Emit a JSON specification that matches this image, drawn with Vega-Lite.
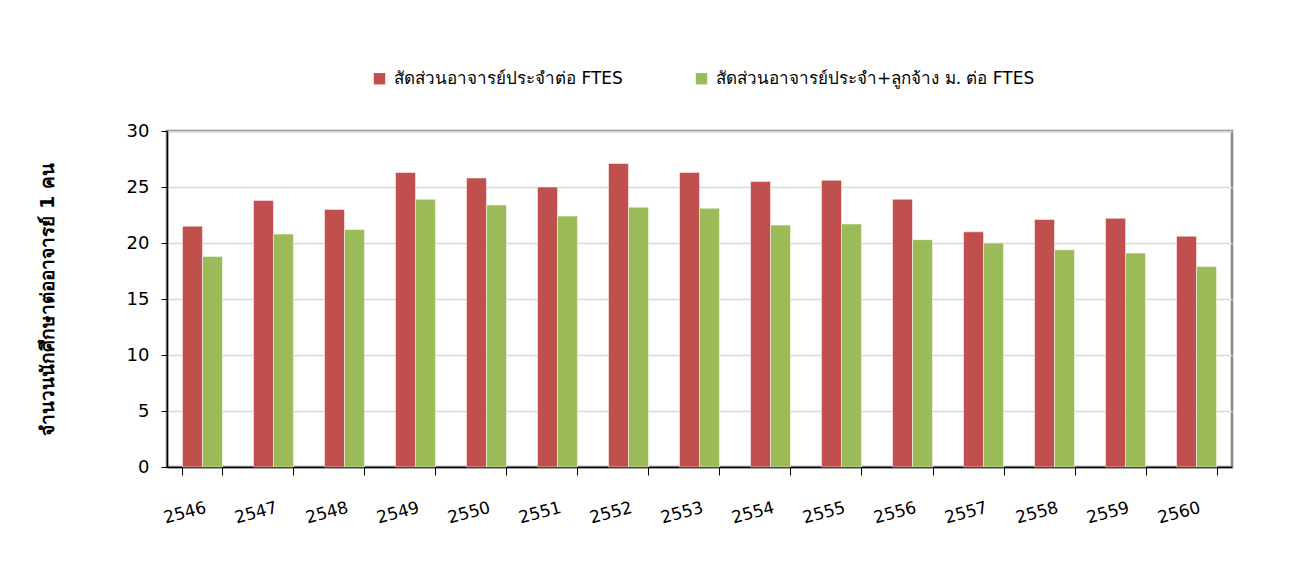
{
  "$schema": "https://vega.github.io/schema/vega-lite/v6.json",
  "width": 1065,
  "height": 336,
  "autosize": {"type": "none"},
  "padding": {"left": 167, "top": 131, "right": 66, "bottom": 104},
  "background": "white",
  "data": {
    "values": [
      {"year": "2546", "series": "สัดส่วนอาจารย์ประจำต่อ FTES", "value": 21.5},
      {"year": "2546", "series": "สัดส่วนอาจารย์ประจำ+ลูกจ้าง ม. ต่อ FTES", "value": 18.8},
      {"year": "2547", "series": "สัดส่วนอาจารย์ประจำต่อ FTES", "value": 23.8},
      {"year": "2547", "series": "สัดส่วนอาจารย์ประจำ+ลูกจ้าง ม. ต่อ FTES", "value": 20.8},
      {"year": "2548", "series": "สัดส่วนอาจารย์ประจำต่อ FTES", "value": 23.0},
      {"year": "2548", "series": "สัดส่วนอาจารย์ประจำ+ลูกจ้าง ม. ต่อ FTES", "value": 21.2},
      {"year": "2549", "series": "สัดส่วนอาจารย์ประจำต่อ FTES", "value": 26.3},
      {"year": "2549", "series": "สัดส่วนอาจารย์ประจำ+ลูกจ้าง ม. ต่อ FTES", "value": 23.9},
      {"year": "2550", "series": "สัดส่วนอาจารย์ประจำต่อ FTES", "value": 25.8},
      {"year": "2550", "series": "สัดส่วนอาจารย์ประจำ+ลูกจ้าง ม. ต่อ FTES", "value": 23.4},
      {"year": "2551", "series": "สัดส่วนอาจารย์ประจำต่อ FTES", "value": 25.0},
      {"year": "2551", "series": "สัดส่วนอาจารย์ประจำ+ลูกจ้าง ม. ต่อ FTES", "value": 22.4},
      {"year": "2552", "series": "สัดส่วนอาจารย์ประจำต่อ FTES", "value": 27.1},
      {"year": "2552", "series": "สัดส่วนอาจารย์ประจำ+ลูกจ้าง ม. ต่อ FTES", "value": 23.2},
      {"year": "2553", "series": "สัดส่วนอาจารย์ประจำต่อ FTES", "value": 26.3},
      {"year": "2553", "series": "สัดส่วนอาจารย์ประจำ+ลูกจ้าง ม. ต่อ FTES", "value": 23.1},
      {"year": "2554", "series": "สัดส่วนอาจารย์ประจำต่อ FTES", "value": 25.5},
      {"year": "2554", "series": "สัดส่วนอาจารย์ประจำ+ลูกจ้าง ม. ต่อ FTES", "value": 21.6},
      {"year": "2555", "series": "สัดส่วนอาจารย์ประจำต่อ FTES", "value": 25.6},
      {"year": "2555", "series": "สัดส่วนอาจารย์ประจำ+ลูกจ้าง ม. ต่อ FTES", "value": 21.7},
      {"year": "2556", "series": "สัดส่วนอาจารย์ประจำต่อ FTES", "value": 23.9},
      {"year": "2556", "series": "สัดส่วนอาจารย์ประจำ+ลูกจ้าง ม. ต่อ FTES", "value": 20.3},
      {"year": "2557", "series": "สัดส่วนอาจารย์ประจำต่อ FTES", "value": 21.0},
      {"year": "2557", "series": "สัดส่วนอาจารย์ประจำ+ลูกจ้าง ม. ต่อ FTES", "value": 20.0},
      {"year": "2558", "series": "สัดส่วนอาจารย์ประจำต่อ FTES", "value": 22.1},
      {"year": "2558", "series": "สัดส่วนอาจารย์ประจำ+ลูกจ้าง ม. ต่อ FTES", "value": 19.4},
      {"year": "2559", "series": "สัดส่วนอาจารย์ประจำต่อ FTES", "value": 22.2},
      {"year": "2559", "series": "สัดส่วนอาจารย์ประจำ+ลูกจ้าง ม. ต่อ FTES", "value": 19.1},
      {"year": "2560", "series": "สัดส่วนอาจารย์ประจำต่อ FTES", "value": 20.6},
      {"year": "2560", "series": "สัดส่วนอาจารย์ประจำ+ลูกจ้าง ม. ต่อ FTES", "value": 17.9}
    ]
  },
  "mark": {"type": "bar", "stroke": "white", "strokeOpacity": 0.5, "strokeWidth": 1},
  "encoding": {
    "x": {
      "field": "year",
      "type": "nominal",
      "sort": null,
      "title": null,
      "scale": {"paddingInner": 0.437, "paddingOuter": 0.218},
      "axis": {
        "tickBand": "extent",
        "domainColor": "black",
        "domainWidth": 1.5,
        "tickColor": "black",
        "tickSize": 8,
        "labelAngle": -15,
        "labelAlign": "right",
        "labelBaseline": "middle",
        "labelPadding": 32,
        "labelFont": "DejaVu Sans",
        "labelFontSize": 17,
        "labelColor": "black",
        "labelOffset": 3
      }
    },
    "xOffset": {
      "field": "series",
      "type": "nominal",
      "sort": ["สัดส่วนอาจารย์ประจำต่อ FTES", "สัดส่วนอาจารย์ประจำ+ลูกจ้าง ม. ต่อ FTES"],
      "scale": {"paddingInner": 0, "paddingOuter": 0}
    },
    "y": {
      "field": "value",
      "type": "quantitative",
      "scale": {"domain": [0, 30]},
      "axis": {
        "values": [0, 5, 10, 15, 20, 25, 30],
        "title": "จำนวนนักศึกษาต่ออาจารย์ 1 คน",
        "titleFont": "DejaVu Sans",
        "titleFontSize": 19,
        "titleFontWeight": "bold",
        "titleColor": "black",
        "titleX": -120,
        "titleY": 168,
        "titleAngle": -90,
        "titleAlign": "center",
        "titleBaseline": "middle",
        "domainColor": "black",
        "domainWidth": 1.5,
        "tickColor": "black",
        "tickSize": 6,
        "labelFont": "DejaVu Sans",
        "labelFontSize": 18,
        "labelColor": "black",
        "labelPadding": 12,
        "gridColor": "#D9D9D9",
        "gridWidth": 1.5
      }
    },
    "color": {
      "field": "series",
      "type": "nominal",
      "sort": ["สัดส่วนอาจารย์ประจำต่อ FTES", "สัดส่วนอาจารย์ประจำ+ลูกจ้าง ม. ต่อ FTES"],
      "scale": {"range": ["#C0504D", "#9BBB59"]},
      "legend": {
        "title": null,
        "orient": "none",
        "direction": "horizontal",
        "legendX": 204,
        "legendY": -61,
        "symbolType": "square",
        "symbolSize": 130,
        "symbolStrokeWidth": 0,
        "labelFont": "DejaVu Sans",
        "labelFontSize": 17,
        "labelColor": "black",
        "labelLimit": 500,
        "columnPadding": 70,
        "labelOffset": 6
      }
    }
  },
  "config": {
    "view": {"stroke": "#868686", "strokeWidth": 2.5}
  }
}
